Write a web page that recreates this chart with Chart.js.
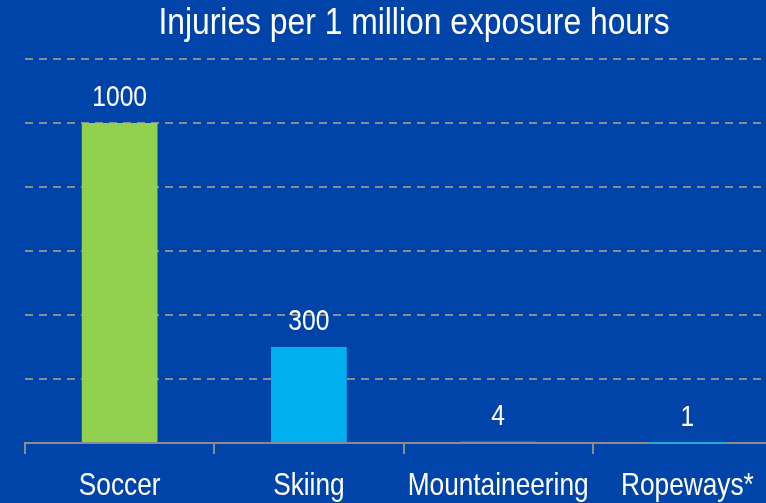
<!DOCTYPE html>
<html>
<head>
<meta charset="utf-8">
<script src="https://cdn.jsdelivr.net/npm/chart.js@4"></script>
<style>
  html, body { margin: 0; padding: 0; background: #0044aa; overflow: hidden; }
  #injuryChart { display: block; }
</style>
</head>
<body>
<canvas id="injuryChart" width="828" height="503"></canvas>
<script>
const activities = ["Soccer", "Skiing", "Mountaineering", "Ropeways*"];
const injuries = [1000, 300, 4, 1];
const barColors = ["#92d050", "#00b0f0", "#92d050", "#00b0f0"];
const titleText = "Injuries per 1 million exposure hours";

const fontFamily = "'Liberation Sans', Arial, sans-serif";

// Liberation Sans squeezed horizontally, to get a narrow face
function narrowText(ctx, text, x, y, size, squeeze) {
  ctx.save();
  ctx.translate(x, y);
  ctx.scale(squeeze || 0.82, 1);
  ctx.font = size + "px " + fontFamily;
  ctx.textAlign = "center";
  ctx.textBaseline = "alphabetic";
  ctx.fillStyle = "#ffffff";
  ctx.fillText(text, 0, 0);
  ctx.restore();
}

// title, category names and the value above each bar
const narrowLabels = {
  id: "narrowLabels",
  afterDraw(chart) {
    const ctx = chart.ctx;
    const xScale = chart.scales.x;
    const meta = chart.getDatasetMeta(0);

    narrowText(ctx, titleText, chart.width / 2, 34, 37, 0.86);

    activities.forEach((name, i) => {
      narrowText(ctx, name, xScale.getPixelForTick(i), 495, 32);
    });

    meta.data.forEach((bar, i) => {
      narrowText(ctx, String(injuries[i]), bar.x, bar.y - 17, 30);
    });
  }
};

const ctx = document.getElementById("injuryChart").getContext("2d");

new Chart(ctx, {
  type: "bar",
  data: {
    labels: activities,
    datasets: [{
      label: "Injuries",
      data: injuries,
      backgroundColor: barColors,
      borderWidth: 0,
      categoryPercentage: 1,
      barPercentage: 0.4
    }]
  },
  options: {
    responsive: false,
    animation: false,
    layout: {
      padding: { left: 25, right: 46, top: 59, bottom: 0 }
    },
    plugins: {
      legend: { display: false },
      tooltip: { enabled: false },
      title: { display: false }
    },
    scales: {
      x: {
        z: 1, // axis line over the bar bases
        offset: true,
        afterFit(scale) { scale.height = 60; },
        border: { display: true, color: "#8c8c8c", width: 2 },
        grid: {
          display: true,
          offset: true,
          drawOnChartArea: false,
          drawTicks: true,
          tickLength: 11,
          color: "#8c8c8c",
          lineWidth: 2
        },
        ticks: { display: false }
      },
      y: {
        min: 0,
        max: 1200,
        afterFit(scale) { scale.width = 0; },
        border: { display: false, dash: [8, 6] },
        grid: {
          color: "#8c8c8c",
          lineWidth: 2,
          drawTicks: false
        },
        ticks: { display: false, stepSize: 200 }
      }
    }
  },
  plugins: [narrowLabels]
});
</script>
</body>
</html>
